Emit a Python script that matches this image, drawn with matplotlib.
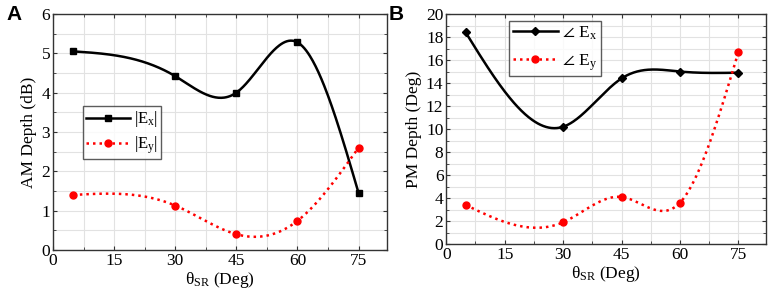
import numpy as np
import matplotlib
matplotlib.use('Agg')
import matplotlib.pyplot as plt
from matplotlib.ticker import MultipleLocator

plt.rcParams['font.family'] = ['Liberation Serif', 'DejaVu Serif']
plt.rcParams['mathtext.fontset'] = 'custom'
plt.rcParams['mathtext.rm'] = 'Liberation Serif'
plt.rcParams['mathtext.it'] = 'Liberation Serif'

theta = [5, 30, 45, 60, 75]
am_ex = [5.05, 4.42, 4.00, 5.28, 1.45]
am_ey = [1.40, 1.13, 0.40, 0.74, 2.60]
pm_ex = [18.4, 10.2, 14.4, 15.0, 14.9]
pm_ey = [3.4, 1.9, 4.1, 3.6, 16.7]

xticks = [0, 15, 30, 45, 60, 75]


def spline(x, y, n=300):
    # natural cubic spline through the points
    x = np.asarray(x, float)
    y = np.asarray(y, float)
    k = len(x)
    h = np.diff(x)
    A = np.zeros((k, k))
    b = np.zeros(k)
    A[0, 0] = A[-1, -1] = 1
    for i in range(1, k - 1):
        A[i, i - 1] = h[i - 1]
        A[i, i] = 2 * (h[i - 1] + h[i])
        A[i, i + 1] = h[i]
        b[i] = 6 * ((y[i + 1] - y[i]) / h[i] - (y[i] - y[i - 1]) / h[i - 1])
    M = np.linalg.solve(A, b)
    xs = np.linspace(x[0], x[-1], n)
    idx = np.clip(np.searchsorted(x, xs) - 1, 0, k - 2)
    x0, x1 = x[idx], x[idx + 1]
    hh = x1 - x0
    ys = (M[idx] * (x1 - xs) ** 3 / (6 * hh) + M[idx + 1] * (xs - x0) ** 3 / (6 * hh)
          + (y[idx] / hh - M[idx] * hh / 6) * (x1 - xs)
          + (y[idx + 1] / hh - M[idx + 1] * hh / 6) * (xs - x0))
    return xs, ys


def style(ax, ymax, ymaj, ymin):
    ax.set_xlim(0, 82)
    ax.set_ylim(0, ymax)
    ax.set_xticks(xticks)
    ax.xaxis.set_minor_locator(MultipleLocator(7.5))
    ax.yaxis.set_major_locator(MultipleLocator(ymaj))
    ax.yaxis.set_minor_locator(MultipleLocator(ymin))
    ax.grid(True, which='both', color='#e2e2e2', lw=0.8)
    ax.set_axisbelow(True)
    ax.tick_params(which='both', direction='in', top=True, right=True,
                   color='#333333', labelsize=12.5, pad=2)
    ax.tick_params(which='major', length=3)
    ax.tick_params(which='minor', length=2)
    for s in ax.spines.values():
        s.set_color('#333333')
        s.set_linewidth(1.0)
    ax.set_xlabel(r'$\mathrm{\theta_{SR}}$ (Deg)', fontsize=12.5, labelpad=1)


def series(ax, x, y, color, ls, marker, ms, label):
    xs, ys = spline(x, y)
    ax.plot(xs, ys, color=color, ls=ls, lw=1.8)
    ax.plot(x, y, ls='none', marker=marker, color=color, ms=ms)
    ax.plot([], [], color=color, ls=ls, lw=1.8, marker=marker, ms=ms, label=label)


def legend(ax, anchor, spacing, size):
    leg = ax.legend(loc='upper left', bbox_to_anchor=anchor, fontsize=size,
                    fancybox=False, edgecolor='#333333', handlelength=2.6,
                    borderpad=0.2, labelspacing=spacing, handletextpad=0.25,
                    borderaxespad=0)
    leg.get_frame().set_linewidth(1.0)


fig = plt.figure(figsize=(7.68, 2.92), dpi=100)
axA = fig.add_axes([0.069, 0.144, 0.435, 0.808])
axB = fig.add_axes([0.581, 0.164, 0.416, 0.788])

red_dot = (0, (1, 1.6))
series(axA, theta, am_ex, 'black', '-', 's', 4.5, r'$|\mathrm{E_x}|$')
series(axA, theta, am_ey, '#ff0000', red_dot, 'o', 5, r'$|\mathrm{E_y}|$')
style(axA, 6, 1, 0.5)
axA.set_ylabel('AM Depth (dB)', fontsize=12.5, labelpad=3)
legend(axA, (0.09, 0.61), 0.3, 12)

series(axB, theta, pm_ex, 'black', '-', 'D', 4, r'$\angle\ \mathrm{E_x}$')
series(axB, theta, pm_ey, '#ff0000', red_dot, 'o', 5, r'$\angle\ \mathrm{E_y}$')
style(axB, 20, 2, 1)
axB.set_ylabel('PM Depth (Deg)', fontsize=12.5, labelpad=3)
legend(axB, (0.197, 0.97), 0.6, 12.5)

fig.text(0.008, 0.93, 'A', fontsize=15, fontweight='bold', family='Liberation Sans')
fig.text(0.506, 0.93, 'B', fontsize=15, fontweight='bold', family='Liberation Sans')

fig.savefig('out.png', dpi=100)
